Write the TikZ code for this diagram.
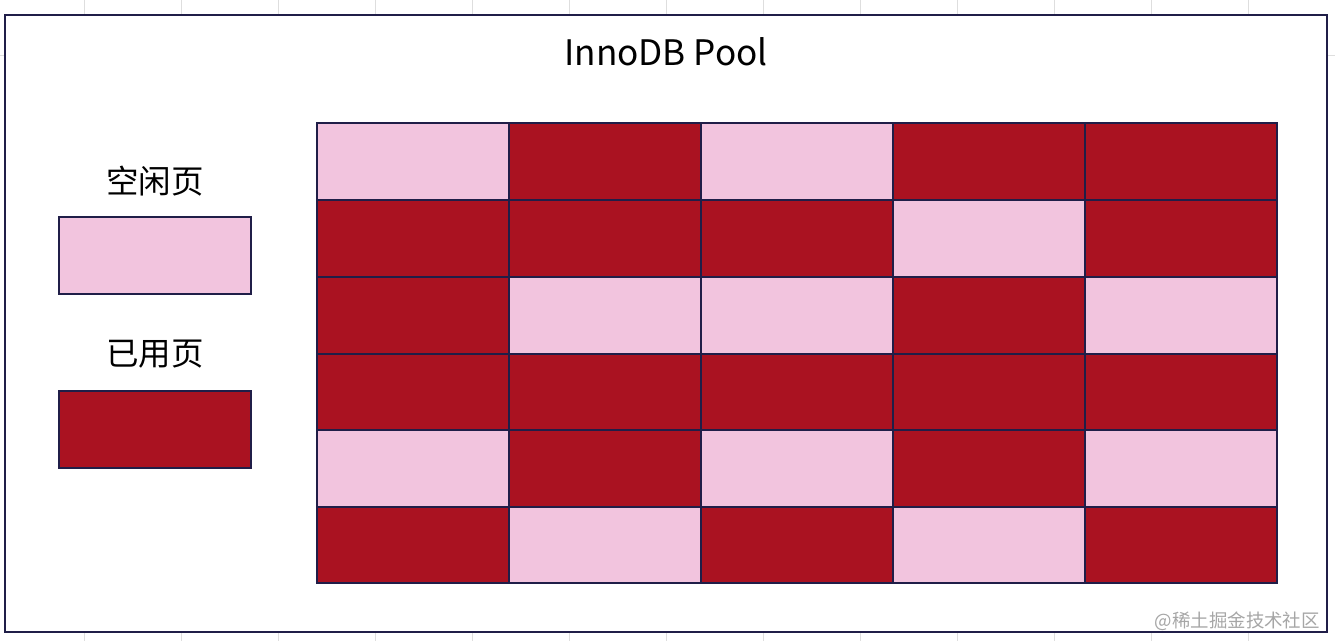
\documentclass[tikz,border=0pt]{standalone}
\usepackage{fontspec}
\setmainfont{Noto Sans CJK SC}
\definecolor{edgenavy}{RGB}{32,30,72}
\definecolor{freepink}{RGB}{242,196,222}
\definecolor{usedred}{RGB}{170,18,33}
\definecolor{sheetgrid}{RGB}{222,222,222}
\tikzset{
	free/.style={draw=edgenavy, line width=1.3pt, fill=freepink},
	used/.style={draw=edgenavy, line width=1.3pt, fill=usedred},
	label/.style={font=\fontsize{18.5}{20}\selectfont, text=black}
}

\begin{document}
\begin{tikzpicture}[x=0.02cm, y=-0.02cm]
		%%%%% START %%%%%
		\useasboundingbox (0, 0) rectangle (1335, 641);
		
		% faint sheet grid round the frame
		\foreach \gx in {84,181,278,375,472,569,666,763,860,957,1054,1151,1248} {
			\draw[sheetgrid, line width=0.4pt] (\gx, 0) -- (\gx, 15);
			\draw[sheetgrid, line width=0.4pt] (\gx, 632) -- (\gx, 641);
		}
		\draw[sheetgrid, line width=0.4pt] (1327, 55) -- (1335, 55);
		\draw[sheetgrid, line width=0.4pt] (0, 55) -- (5, 55);
		
		\draw[edgenavy, line width=1.5pt, fill=white] (5, 15) rectangle (1327, 632);
		
		\node[font=\fontsize{20}{22}\selectfont] (title) at (666, 52) {InnoDB Pool};
		
		% legend
		\node[label] (freelabel) at (155, 181) {空闲页};
		\draw[free] (59, 217) rectangle (251, 294);
		\node[label] (usedlabel) at (155, 354) {已用页};
		\draw[used] (59, 391) rectangle (251, 468);
		
		% row 1
		\draw[free] (317, 123) rectangle (509, 200);
		\draw[used] (509, 123) rectangle (701, 200);
		\draw[free] (701, 123) rectangle (893, 200);
		\draw[used] (893, 123) rectangle (1085, 200);
		\draw[used] (1085, 123) rectangle (1277, 200);
		
		% row 2
		\draw[used] (317, 200) rectangle (509, 277);
		\draw[used] (509, 200) rectangle (701, 277);
		\draw[used] (701, 200) rectangle (893, 277);
		\draw[free] (893, 200) rectangle (1085, 277);
		\draw[used] (1085, 200) rectangle (1277, 277);
		
		% row 3
		\draw[used] (317, 277) rectangle (509, 354);
		\draw[free] (509, 277) rectangle (701, 354);
		\draw[free] (701, 277) rectangle (893, 354);
		\draw[used] (893, 277) rectangle (1085, 354);
		\draw[free] (1085, 277) rectangle (1277, 354);
		
		% row 4
		\draw[used] (317, 354) rectangle (509, 430);
		\draw[used] (509, 354) rectangle (701, 430);
		\draw[used] (701, 354) rectangle (893, 430);
		\draw[used] (893, 354) rectangle (1085, 430);
		\draw[used] (1085, 354) rectangle (1277, 430);
		
		% row 5
		\draw[free] (317, 430) rectangle (509, 507);
		\draw[used] (509, 430) rectangle (701, 507);
		\draw[free] (701, 430) rectangle (893, 507);
		\draw[used] (893, 430) rectangle (1085, 507);
		\draw[free] (1085, 430) rectangle (1277, 507);
		
		% row 6
		\draw[used] (317, 507) rectangle (509, 583);
		\draw[free] (509, 507) rectangle (701, 583);
		\draw[used] (701, 507) rectangle (893, 583);
		\draw[free] (893, 507) rectangle (1085, 583);
		\draw[used] (1085, 507) rectangle (1277, 583);
		
		\node[anchor=east, text=black!35, font=\fontsize{10.5}{12}\selectfont] (mark) at (1326, 621) {@稀土掘金技术社区};
		
		%%%%% END %%%%%
	\end{tikzpicture}
\end{document}
